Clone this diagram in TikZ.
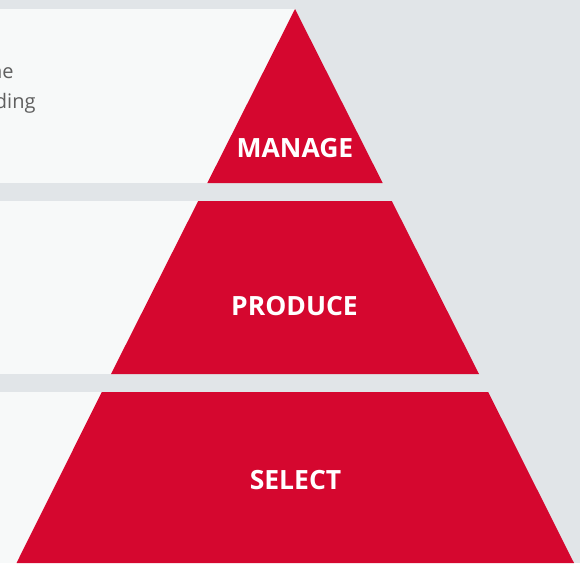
\documentclass[tikz,border=0pt]{standalone}
\usepackage{fontspec}
\setmainfont{Open Sans}
\usepackage{tikz}

\definecolor{pagegray}{HTML}{E1E5E8}
\definecolor{panelwhite}{HTML}{F7F9F9}
\definecolor{tierred}{HTML}{D5072F}
\definecolor{textgray}{HTML}{5F5F5F}

\begin{document}
\begin{tikzpicture}[
		x=1pt, y=-1pt,
		tier/.style={fill=tierred},
		panel/.style={fill=panelwhite},
		every node/.style={inner sep=0pt, outer sep=0pt},
		tierlabel/.style={text=white, font=\fontsize{26.5}{30}\selectfont\bfseries},
		bodytext/.style={text=textgray, font=\fontsize{20}{30}\selectfont, anchor=base east}
	]
  \useasboundingbox (0,0) rectangle (580,563);
  \clip (0,0) rectangle (580,563);
  \fill[pagegray] (0,0) rectangle (580,563);
  % text panels
  \fill[panel] (0,9) rectangle (295,183);
  \fill[panel] (0,201) rectangle (295,374);
  \fill[panel] (0,392) rectangle (295,563);
  \node (line1) [bodytext] at (13.5,78) {he};
  \node (line2) [bodytext] at (35.5,108) {ding};
  % pyramid tiers
  \fill[tier] (295,9) -- (382.7,183) -- (207.3,183) -- cycle;
  \fill[tier] (198.2,201) -- (391.8,201) -- (479,374) -- (111,374) -- cycle;
  \fill[tier] (101.8,392) -- (488.2,392) -- (574,563) -- (16.5,563) -- cycle;
  \node (manage) [tierlabel] at (295,148) {MANAGE};
  \node (produce) [tierlabel] at (294.5,306.5) {PRODUCE};
  \node (select) [tierlabel] at (295.5,480) {SELECT};
\end{tikzpicture}
\end{document}
